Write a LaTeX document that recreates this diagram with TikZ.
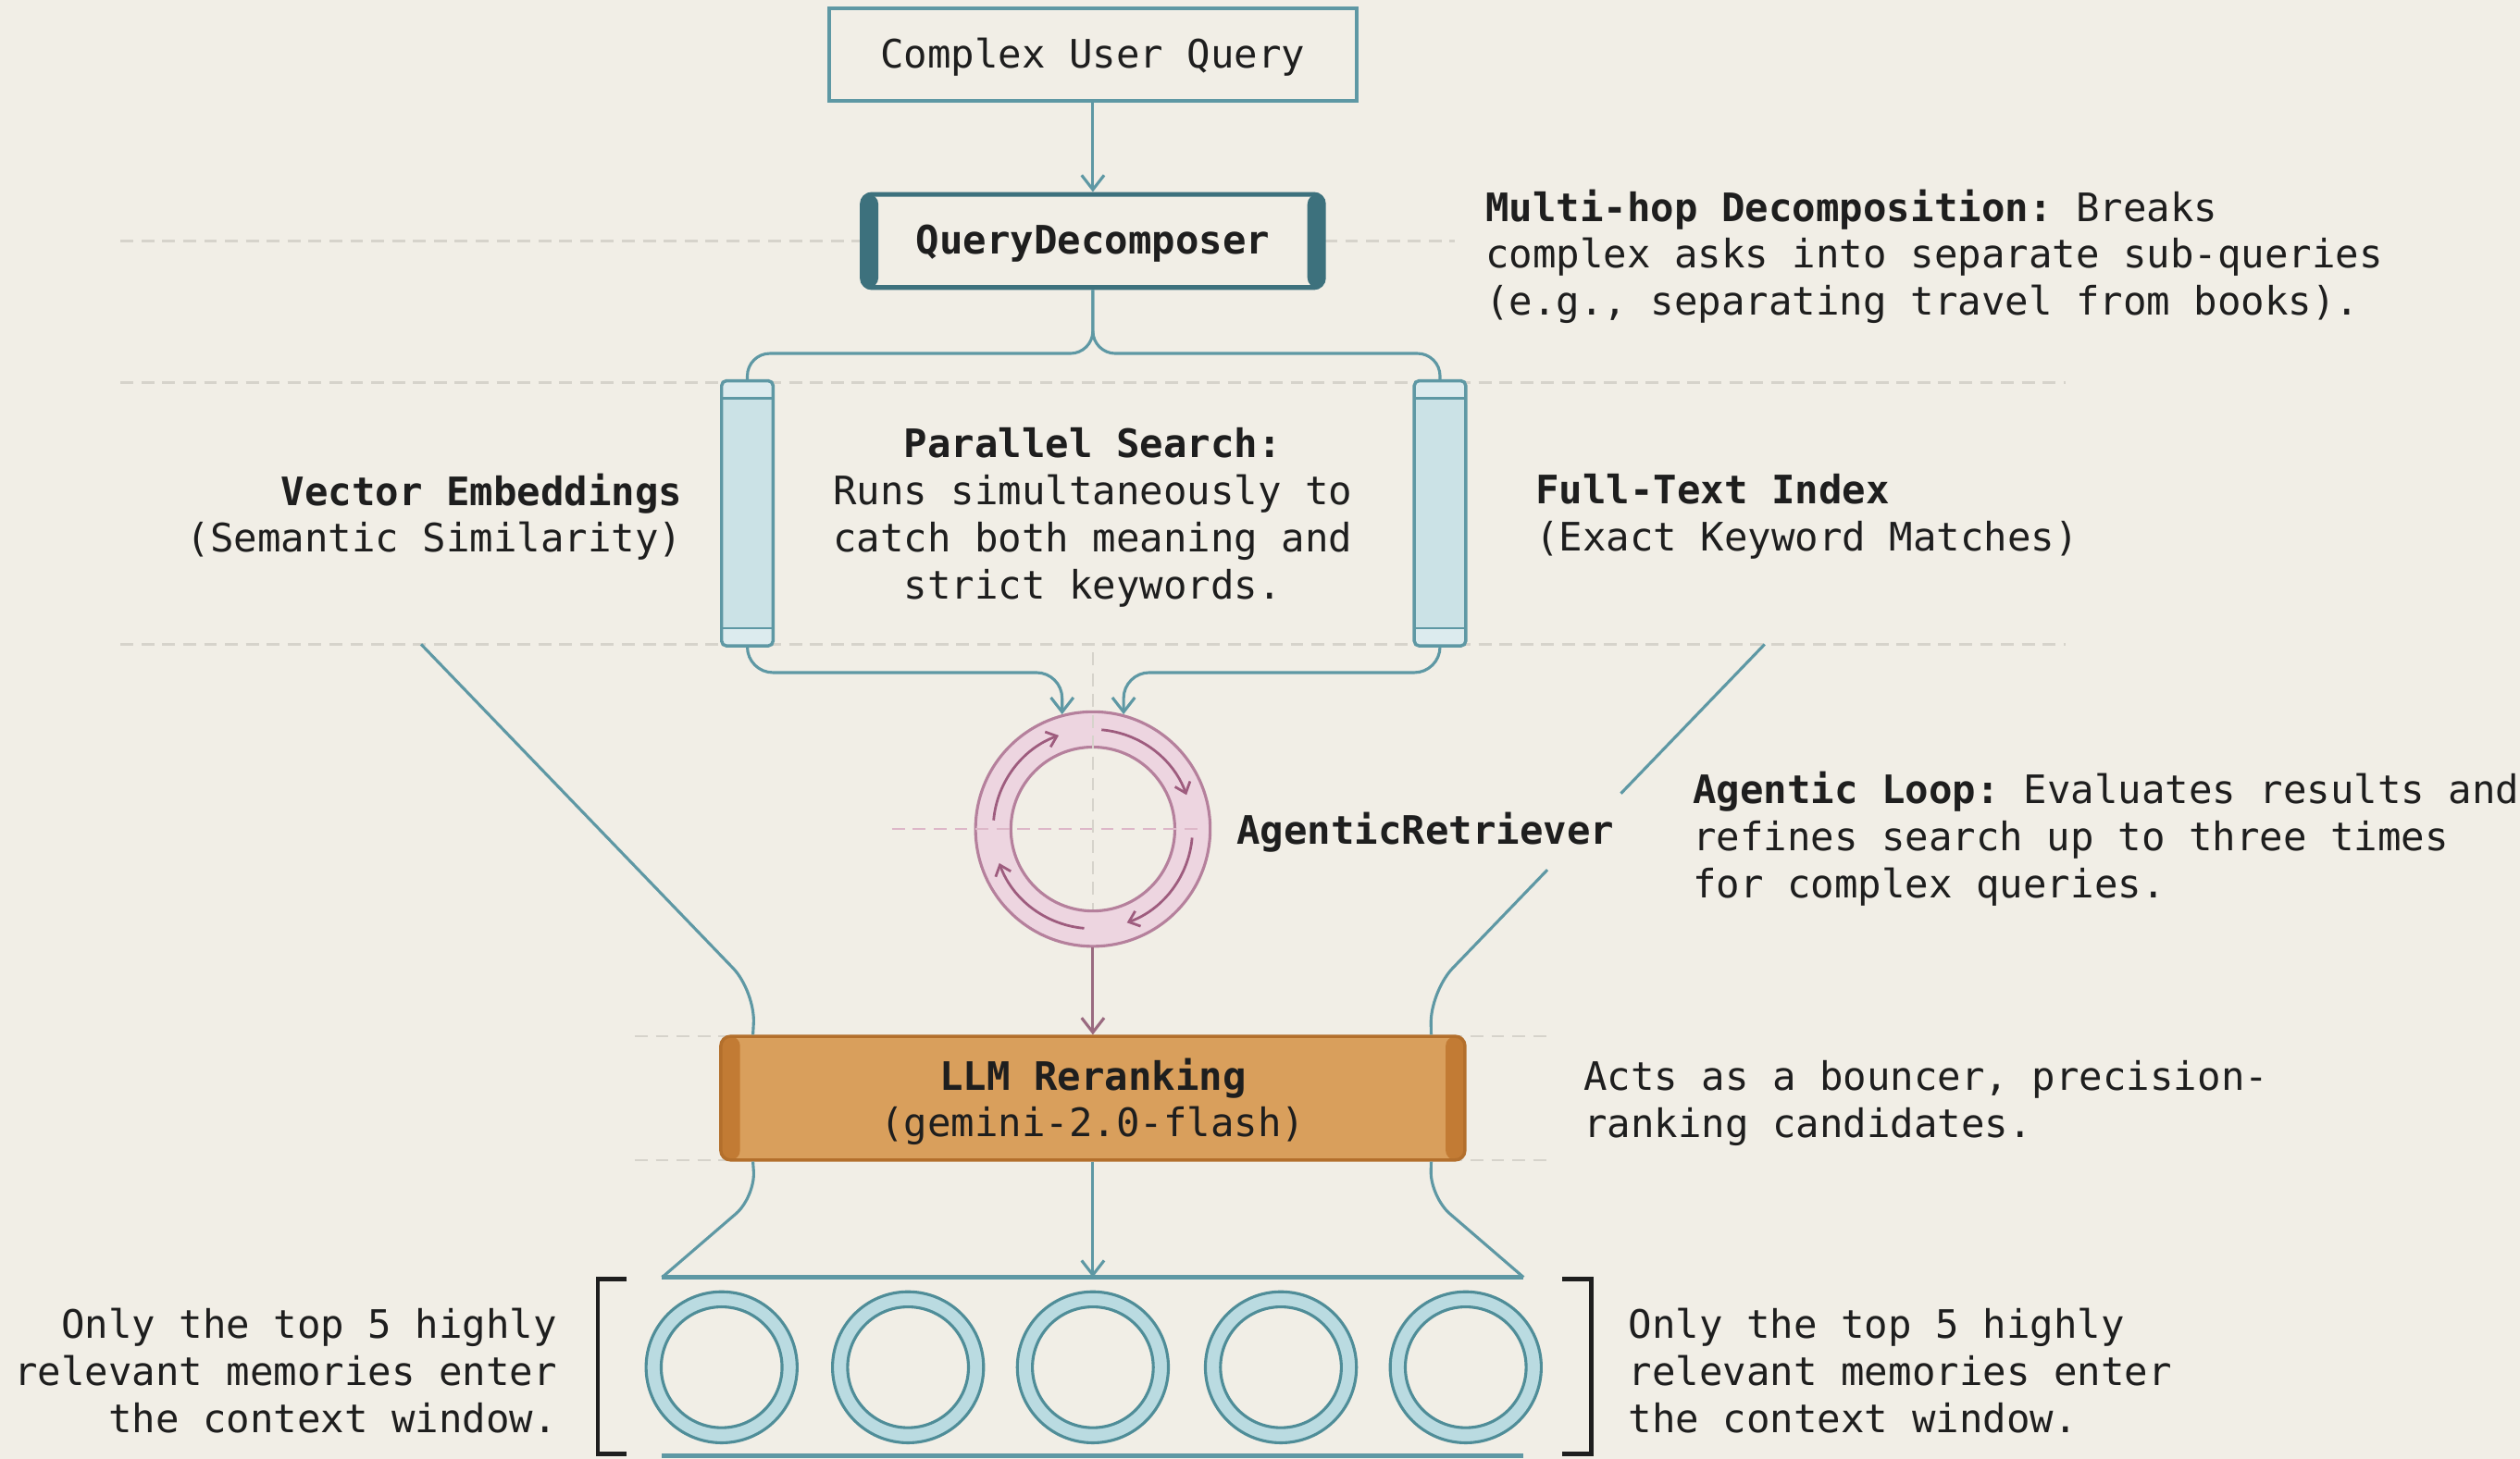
\documentclass[tikz,border=0pt]{standalone}
\usepackage{fontspec}
\setmonofont{DejaVu Sans Mono}
\usetikzlibrary{arrows.meta,calc}
\definecolor{bg}{HTML}{F1EEE6}
\definecolor{ink}{HTML}{1E1E1E}
\definecolor{lnteal}{HTML}{5E98A4}
\definecolor{dteal}{HTML}{3D717D}
\definecolor{cylblue}{HTML}{CBE2E6}
\definecolor{cylband}{HTML}{DCEBEE}
\definecolor{pinkfill}{HTML}{EDD5E0}
\definecolor{pinkline}{HTML}{B5809C}
\definecolor{pinkarrow}{HTML}{9E5C7E}
\definecolor{mauve}{HTML}{9A6A80}
\definecolor{orangefill}{HTML}{D99F5C}
\definecolor{orangedark}{HTML}{B36F2C}
\definecolor{orangecap}{HTML}{C27B34}
\definecolor{ringblue}{HTML}{BADBE1}
\definecolor{ringline}{HTML}{4F8D98}
\definecolor{guidegray}{HTML}{D6D3CB}
\definecolor{pinkguide}{HTML}{DDB7C8}
\begin{document}
\begin{tikzpicture}[x=0.5pt,y=-0.5pt,
  every node/.style={font=\ttfamily\fontsize{12.2}{14.65}\selectfont, text=ink, inner sep=0pt},
  lbl/.style={yshift=-1.1pt},
  conn/.style={draw=lnteal, line width=0.9pt},
  tip/.style={-{Straight Barb[length=4.5pt,width=7pt,line width=0.9pt]}},
  guide/.style={draw=guidegray, line width=0.7pt, dash pattern=on 4pt off 2.5pt},
  querybox/.style={draw=lnteal, line width=1.1pt, fill=bg, minimum width=164pt, minimum height=29pt, text height=10.2pt, text depth=2pt},
  qdbox/.style={draw=dteal, line width=1.5pt, fill=bg, rounded corners=3pt, minimum width=143.5pt, minimum height=29pt, text height=10.2pt, text depth=2pt,
    path picture={\fill[dteal] (path picture bounding box.south west) rectangle ([xshift=5pt]path picture bounding box.north west);
                  \fill[dteal] (path picture bounding box.south east) rectangle ([xshift=-5pt]path picture bounding box.north east);}},
  cyl/.style={draw=lnteal, fill=cylblue, line width=1pt, rounded corners=1.5pt, minimum width=16pt, minimum height=82.5pt,
    path picture={\fill[cylband] (path picture bounding box.north west) rectangle ([yshift=-5.5pt]path picture bounding box.north east);
                  \fill[cylband] (path picture bounding box.south west) rectangle ([yshift=5.5pt]path picture bounding box.south east);
                  \draw[lnteal, line width=0.8pt] ([yshift=-5.5pt]path picture bounding box.north west) -- ([yshift=-5.5pt]path picture bounding box.north east);
                  \draw[lnteal, line width=0.8pt] ([yshift=5.5pt]path picture bounding box.south west) -- ([yshift=5.5pt]path picture bounding box.south east);}},
  llmbox/.style={draw=orangedark, fill=orangefill, line width=1pt, rounded corners=3pt, minimum width=231.5pt, minimum height=38.5pt,
    path picture={\fill[orangecap] (path picture bounding box.south west) rectangle ([xshift=6pt]path picture bounding box.north west);
                  \fill[orangecap] (path picture bounding box.south east) rectangle ([xshift=-6pt]path picture bounding box.north east);}},
  memring/.style={circle, minimum size=47pt, fill=ringblue, draw=ringline, line width=0.9pt},
  loopring/.style={circle, minimum size=73pt, fill=pinkfill, draw=pinkline, line width=0.9pt}
]
\fill[bg] (0,0) rectangle (1568,908);
\useasboundingbox (0,0) rectangle (1568,908);

% guide lines
\draw[guide] (75,150) -- (537,150);
\draw[guide] (824,150) -- (905,150);
\draw[guide] (75,238) -- (1285,238);
\draw[guide] (75,401) -- (1285,401);
\draw[guide] (395,645) -- (965,645);
\draw[guide] (395,722) -- (965,722);

% top
\node[querybox] (query) at (680,34) {Complex User Query};
\node[qdbox] (qd) at (680,150) {\bfseries QueryDecomposer};
\draw[conn,tip] (query) -- (qd);

\node[lbl, anchor=west, align=left] (multihop) at (924,157.5) {\textbf{Multi-hop Decomposition:} Breaks\\complex asks into separate sub-queries\\(e.g., separating travel from books).};

% cylinders
\node[cyl] (lcyl) at (465,319.5) {};
\node[cyl] (rcyl) at (896,319.5) {};
\draw[conn, rounded corners=7pt] (qd.south) -- (680,220) -| (lcyl.north);
\draw[conn, rounded corners=7pt] (qd.south) -- (680,220) -| (rcyl.north);

\node[lbl, anchor=east, align=right] (vec) at (425,319.5) {\textbf{Vector Embeddings}\\(Semantic Similarity)};
\node[lbl, anchor=west, align=left] (fts) at (955,319.5) {\textbf{Full-Text Index}\\(Exact Keyword Matches)};
\node[lbl, align=center] (par) at (680,320) {\textbf{Parallel Search:}\\Runs simultaneously to\\catch both meaning and\\strict keywords.};

% agentic ring
\node[loopring] (ring) at (680,516) {};
\draw[pinkline, line width=0.9pt, fill=bg] (ring.center) circle[radius=25.5pt];
\draw[pinkguide, line width=0.7pt, dash pattern=on 4pt off 2.5pt] (555,516) -- (745,516);
\draw[guidegray, line width=0.7pt, dash pattern=on 4pt off 2.5pt] (680,406) -- (680,566);
\begin{scope}[shift={(ring.center)}, x=1pt, y=1pt]
  \foreach \a in {175,85,-5,-95}{
    \draw[pinkarrow, line width=0.8pt, -{Straight Barb[length=3pt,width=5pt,line width=0.8pt]}]
      ({31*cos(\a)},{31*sin(\a)}) arc[start angle=\a, end angle=\a-65, radius=31];
  }
\end{scope}
\draw[conn, tip, rounded corners=8pt] (lcyl.south) |- ($(ring.105)+(0,-26)$) -- (ring.105);
\draw[conn, tip, rounded corners=8pt] (rcyl.south) |- ($(ring.75)+(0,-26)$) -- (ring.75);

\node[lbl, anchor=west] (agr) at (769,516) {\bfseries AgenticRetriever};
\node[lbl, anchor=west, align=left] (loop) at (1053,520) {\textbf{Agentic Loop:} Evaluates results and\\refines search up to three times\\for complex queries.};

% LLM reranking
\node[llmbox, label={[lbl, align=center]center:{\textbf{LLM Reranking}\\(gemini-2.0-flash)}}] (llm) at (680,683.5) {};
\draw[draw=mauve, line width=0.9pt, -{Straight Barb[length=4.5pt,width=7pt,line width=0.9pt]}] (ring.south) -- (llm.north);
\node[lbl, anchor=west, align=left] (acts) at (985,684.5) {Acts as a bouncer, precision-\\ranking candidates.};

% upper funnel
\coordinate (fl) at (262,401);
\coordinate (fr) at (1098,401);
\coordinate (frb) at (890,617);
\draw[conn, rounded corners=10pt] (fl) -- (470,617) -- ([xshift=10.5pt]llm.north west);
\draw[conn] (fr) -- ($(fr)!0.43!(frb)$);
\draw[conn, rounded corners=10pt] ($(fr)!0.65!(frb)$) -- (frb) -- ([xshift=-11pt]llm.north east);

% lower funnel
\coordinate (barL) at (412,795);
\coordinate (barR) at (948,795);
\coordinate (botL) at (412,906);
\coordinate (botR) at (948,906);
\draw[conn, rounded corners=8pt] ([xshift=10.5pt]llm.south west) -- (470,745) -- (barL);
\draw[conn, rounded corners=8pt] ([xshift=-11pt]llm.south east) -- (890,745) -- (barR);
\draw[conn, line width=1.3pt] (barL) -- (barR);
\draw[conn, line width=1.3pt] (botL) -- (botR);
\draw[conn, tip] (llm.south) -- ($(barL)!0.5!(barR)$);

% memory rings
\foreach \i/\x in {1/449,2/565,3/680,4/797,5/912}{
  \node[memring] (m\i) at (\x,851) {};
  \draw[ringline, line width=0.9pt, fill=bg] (m\i.center) circle[radius=18.8pt];
}

% brackets
\draw[ink, line width=1.3pt] (390,796) -- (372,796) -- (372,905) -- (390,905);
\draw[ink, line width=1.3pt] (972,796) -- (990,796) -- (990,905) -- (972,905);

\node[lbl, anchor=east, align=right] (onlyl) at (347,851) {Only the top 5 highly\\relevant memories enter\\the context window.};
\node[lbl, anchor=west, align=left] (onlyr) at (1013,851) {Only the top 5 highly\\relevant memories enter\\the context window.};
\end{tikzpicture}
\end{document}
